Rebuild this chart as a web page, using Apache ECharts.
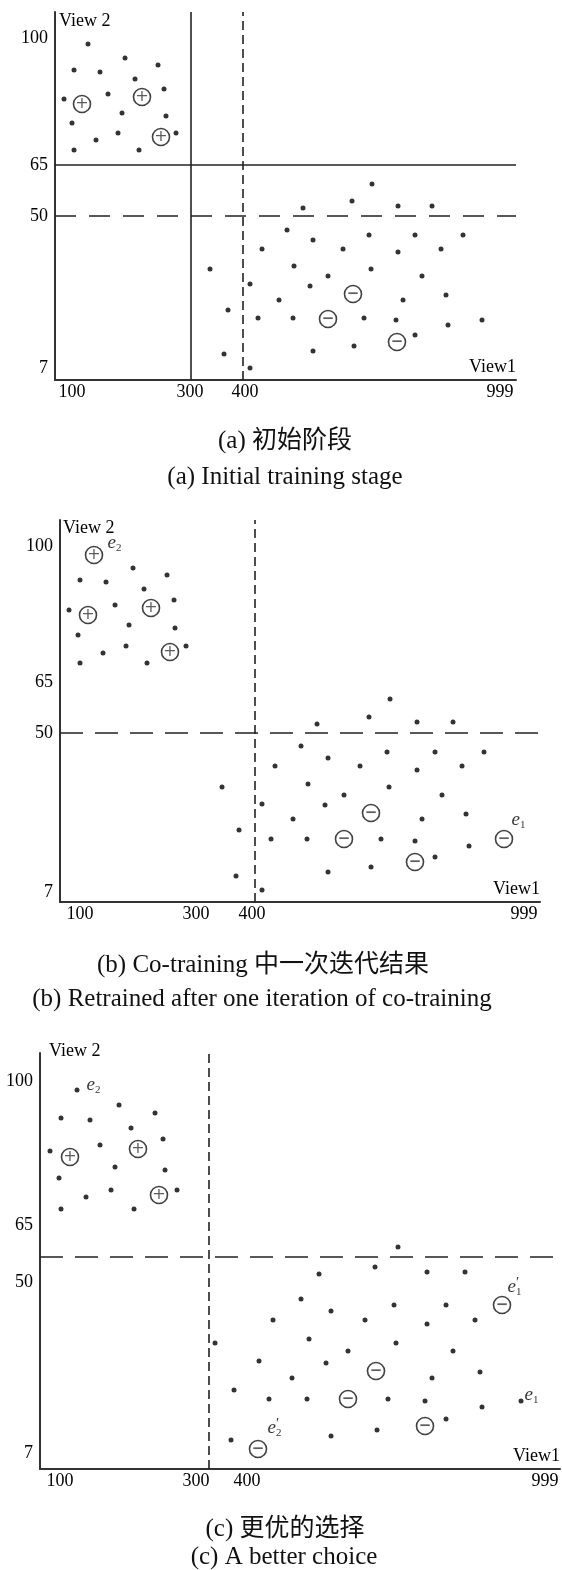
<!DOCTYPE html>
<html><head><meta charset="utf-8">
<script src="https://cdn.jsdelivr.net/npm/echarts@6/dist/echarts.min.js"></script>
<style>html,body{margin:0;padding:0;background:#fff}#c{width:562px;height:1570px}</style>
</head><body><div id="c"></div>
<script>
// ---------- Panel (a) ----------
const aXTicks = [17, 135, 190, 445];
const aXLabels = ['100', '300', '400', '999'];
const aYTicks = [12, 164, 215, 342];
const aYLabels = ['7', '50', '65', '100'];
const aSolidX = [136];
const aSolidY = [215];
const aDashX = [188];
const aDashY = [164];
const aDots = [
  [33,336],[70,322],[103,315],[19,310],[45,308],[80,301],[109,291],[53,286],[9,281],[67,267],[17,257],[111,264],[63,247],[121,247],[41,240],[19,230],[84,230],
  [317,196],[297,179],[248,172],[343,174],[377,174],[232,150],[258,140],[314,145],[360,145],[408,145],[207,131],[288,131],[343,128],[386,131],[155,111],[239,114],[316,111],[367,104],[273,104],[195,96],[255,94],[224,80],[348,80],[391,85],[173,70],[203,62],[238,62],[309,62],[341,60],[393,55],[427,60],[360,45],[169,26],[258,29],[299,34],[195,12]
];
const aPlus = [[27,276],[87,283],[106,243]];
const aMinus = [[298,86],[273,61],[342,38]];
const aNotes = [];

// ---------- Panel (b) ----------
const bXTicks = [20, 136, 192, 464];
const bXLabels = ['100', '300', '400', '999'];
const bYTicks = [10, 169, 220, 356];
const bYLabels = ['7', '50', '65', '100'];
const bSolidX = [];
const bSolidY = [];
const bDashX = [195];
const bDashY = [169];
const bDots = [
  [73,334],[107,327],[20,322],[46,320],[84,313],[114,302],[55,297],[9,292],[69,277],[115,274],[18,267],[66,256],[126,256],[43,249],[20,239],[87,239],
  [330,203],[309,185],[257,178],[357,180],[393,180],[241,156],[268,144],[327,150],[375,150],[424,150],[215,136],[300,136],[357,132],[402,136],[162,115],[248,118],[329,115],[382,107],[284,107],[202,98],[265,97],[233,83],[362,83],[406,88],[179,72],[211,63],[247,63],[321,63],[355,61],[409,56],[375,45],[176,26],[268,30],[311,35],[202,12]
];
const bPlus = [[34,347],[28,287],[91,294],[110,250]];
const bMinus = [[311,89],[284,63],[355,40],[444,63]];
const bNotes = [[34,347,'e2'],[444,63,'e1']];

// ---------- Panel (c) ----------
const cXTicks = [20, 156, 207, 505];
const cXLabels = ['100', '300', '400', '999'];
const cYTicks = [16, 187, 244, 388];
const cYLabels = ['7', '50', '65', '100'];
const cSolidX = [];
const cSolidY = [];
const cDashX = [169];
const cDashY = [212];
const cDots = [
  [37,379],[79,364],[115,356],[21,351],[50,349],[91,341],[123,330],[60,324],[10,318],[75,302],[19,291],[125,299],[71,279],[137,279],[46,272],[21,260],[94,260],
  [358,222],[335,202],[279,195],[387,197],[425,197],[261,170],[291,158],[354,164],[406,164],[233,149],[325,149],[387,145],[435,149],[175,126],[269,130],[356,126],[413,118],[308,118],[219,108],[286,106],[252,91],[392,91],[440,97],[194,79],[229,70],[267,70],[348,70],[385,68],[442,62],[481,68],[406,50],[191,29],[291,33],[337,39]
];
const cPlus = [[30,312],[98,320],[119,274]];
const cMinus = [[462,164],[336,98],[308,70],[385,43],[218,20]];
const cNotes = [[37,379,'e2'],[481,68,'e1'],[462,164,"e1'"],[218,20,"e2'"]];

const captions = [
  '(a) 初始阶段', '(a) Initial training stage',
  '(b) Co-training 中一次迭代结果', '(b) Retrained after one iteration of co-training',
  '(c) 更优的选择', '(c) A better choice'
];

// ---------- styles / layout ----------
const SERIF = '"Liberation Serif","Times New Roman",serif';
const CAPF = '"Liberation Serif","Noto Sans CJK SC",serif';
const layouts = [
  {left:55, top:12, width:461, height:368, xMax:461, yMax:368, v2Gap:-9, v2Pad:4, hDash:[21,13], vDash:[9,5]},
  {left:60, top:520, width:480, height:382, xMax:480, yMax:382, v2Gap:-8, v2Pad:3, hDash:[23,12], vDash:[9,5]},
  {left:40, top:1053, width:520, height:416, xMax:520, yMax:416, v2Gap:2, v2Pad:9, hDash:[23,12], vDash:[9,5]}
];
const noteOffsets = [
  {},
  {'e2':[14,-12], 'e1':[8,-19]},
  {'e2':[10,-5], 'e1':[4,-6], "e1'":[6,-18], "e2'":[10,-21]}
];
const captionPos = [[280,424],[280,460],[258,948],[257,982],[280,1512],[279,1540]];

const panels = [
  {xT:aXTicks,xL:aXLabels,yT:aYTicks,yL:aYLabels,sX:aSolidX,sY:aSolidY,dX:aDashX,dY:aDashY,dots:aDots,plus:aPlus,minus:aMinus,notes:aNotes},
  {xT:bXTicks,xL:bXLabels,yT:bYTicks,yL:bYLabels,sX:bSolidX,sY:bSolidY,dX:bDashX,dY:bDashY,dots:bDots,plus:bPlus,minus:bMinus,notes:bNotes},
  {xT:cXTicks,xL:cXLabels,yT:cYTicks,yL:cYLabels,sX:cSolidX,sY:cSolidY,dX:cDashX,dY:cDashY,dots:cDots,plus:cPlus,minus:cMinus,notes:cNotes}
];

const grids = [], xAxes = [], yAxes = [], series = [];
const richText = {
  e: {fontFamily: SERIF, fontStyle: 'italic', fontSize: 19, color: '#000', lineHeight: 22, verticalAlign: 'middle'},
  s: {fontFamily: SERIF, fontSize: 11, color: '#000', lineHeight: 22, verticalAlign: 'bottom'},
  p: {fontFamily: SERIF, fontSize: 15, color: '#000', lineHeight: 22, verticalAlign: 'top', width: 0}
};
function noteRich(t) {
  const num = t.replace(/[^0-9]/g, '');
  return t.indexOf("'") >= 0 ? '{e|e}{p|′}{s|' + num + '}' : '{e|e}{s|' + num + '}';
}

panels.forEach((p, i) => {
  const L = layouts[i];
  grids.push({left: L.left, top: L.top, width: L.width, height: L.height, containLabel: false});
  xAxes.push({
    type: 'value', gridIndex: i, min: 0, max: L.xMax,
    axisLine: {show: true, onZero: false, lineStyle: {color: '#333', width: 2}},
    axisTick: {show: false}, splitLine: {show: false},
    axisLabel: {customValues: p.xT, formatter: v => p.xL[p.xT.indexOf(v)],
      fontFamily: SERIF, fontSize: 18, color: '#000', margin: 3},
    name: 'View1', nameLocation: 'end', nameGap: 0,
    nameTextStyle: {fontFamily: SERIF, fontSize: 18, color: '#000', align: 'right', verticalAlign: 'bottom', padding: [0, 0, 4, 0]}
  });
  yAxes.push({
    type: 'value', gridIndex: i, min: 0, max: L.yMax,
    axisLine: {show: true, onZero: false, lineStyle: {color: '#333', width: 2}},
    axisTick: {show: false}, splitLine: {show: false},
    axisLabel: {customValues: p.yT, formatter: v => p.yL[p.yT.indexOf(v)],
      fontFamily: SERIF, fontSize: 18, color: '#000', margin: 7},
    name: 'View 2', nameLocation: 'end', nameGap: L.v2Gap,
    nameTextStyle: {fontFamily: SERIF, fontSize: 18, color: '#000', align: 'left', verticalAlign: 'middle', padding: [0, 0, 0, L.v2Pad]}
  });
  const ml = [];
  p.sX.forEach(v => ml.push({xAxis: v, lineStyle: {type: 'solid', width: 1.6, color: '#222'}}));
  p.sY.forEach(v => ml.push({yAxis: v, lineStyle: {type: 'solid', width: 1.6, color: '#222'}}));
  p.dX.forEach(v => ml.push({xAxis: v, lineStyle: {type: L.vDash, width: 1.6, color: '#222'}}));
  p.dY.forEach(v => ml.push({yAxis: v, lineStyle: {type: L.hDash, width: 1.6, color: '#222'}}));
  series.push({
    type: 'scatter', xAxisIndex: i, yAxisIndex: i, data: p.dots, symbolSize: 5,
    itemStyle: {color: '#000'}, silent: true, z: 3,
    markLine: {silent: true, symbol: ['none', 'none'], label: {show: false}, animation: false, data: ml}
  });
  series.push({
    type: 'scatter', xAxisIndex: i, yAxisIndex: i, data: p.plus, symbol: 'circle', symbolSize: 17,
    itemStyle: {color: '#fff', borderColor: '#111', borderWidth: 1.6}, silent: true, z: 4,
    label: {show: true, position: 'inside', formatter: '+', fontFamily: '"DejaVu Sans"', fontSize: 16, color: '#333'}
  });
  series.push({
    type: 'scatter', xAxisIndex: i, yAxisIndex: i, data: p.minus, symbol: 'circle', symbolSize: 17,
    itemStyle: {color: '#fff', borderColor: '#111', borderWidth: 1.6}, silent: true, z: 4,
    label: {show: true, position: 'inside', formatter: '−', fontFamily: '"DejaVu Sans"', fontWeight: 'bold', fontSize: 15, color: '#333'}
  });
  if (p.notes.length) {
    series.push({
      type: 'scatter', xAxisIndex: i, yAxisIndex: i, symbolSize: 1, silent: true, z: 5,
      itemStyle: {color: 'rgba(0,0,0,0)'},
      data: p.notes.map(n => ({
        value: [n[0], n[1]],
        label: {show: true, position: noteOffsets[i][n[2]], align: 'left', verticalAlign: 'middle',
          formatter: noteRich(n[2]), rich: richText}
      }))
    });
  }
});

const titles = captions.map((t, k) => ({
  text: t, left: captionPos[k][0], top: captionPos[k][1], textAlign: 'center',
  textStyle: {fontFamily: CAPF, fontSize: 25, fontWeight: 'normal', color: '#111'}
}));

const chart = echarts.init(document.getElementById('c'), null, {renderer: 'canvas'});
chart.setOption({
  animation: false, backgroundColor: '#fff',
  title: titles, grid: grids, xAxis: xAxes, yAxis: yAxes, series: series
});
</script></body></html>
